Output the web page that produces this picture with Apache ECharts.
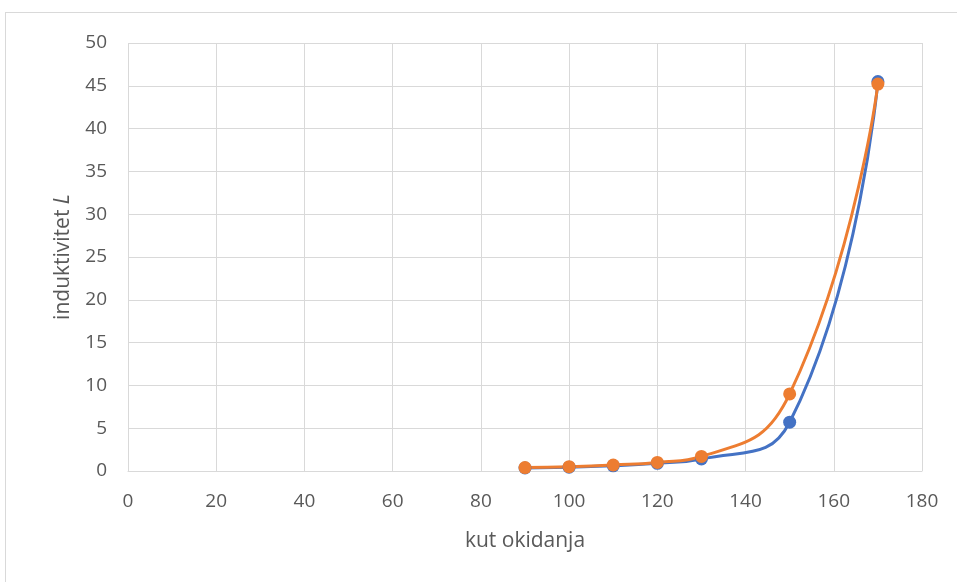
<!DOCTYPE html>
<html>
<head>
<meta charset="utf-8">
<script src="https://cdn.jsdelivr.net/npm/echarts@6/dist/echarts.min.js"></script>
<style>
  html, body { margin: 0; padding: 0; background: #fff; }
  #frame { position: absolute; left: 5px; top: 12px; width: 960px; height: 580px; border: 1px solid #d9d9d9; box-sizing: border-box; }
  #chart { position: absolute; left: 0; top: 0; width: 957px; height: 582px; }
</style>
</head>
<body>
<div id="frame"></div>
<div id="chart"></div>
<script>
// kut okidanja (trigger angle) values
const angles = [90, 100, 110, 120, 130, 150, 170];
// measured inductance, first series
const seriesA = [0.35, 0.45, 0.6, 0.9, 1.4, 5.7, 45.5];
// measured inductance, second series
const seriesB = [0.4, 0.5, 0.7, 1.0, 1.7, 9.0, 45.2];

const xTitle = 'kut okidanja';
const yTitle = 'induktivitet';

const font = "'Open Sans', 'Liberation Sans', sans-serif";
const chart = echarts.init(document.getElementById('chart'), null, { renderer: 'canvas' });

const pairs = arr => angles.map((a, i) => [a, arr[i]]);

chart.setOption({
  animation: false,
  grid: { left: 128, right: 35, top: 43, bottom: 111 },
  xAxis: {
    type: 'value', min: 0, max: 180, interval: 20,
    name: xTitle, nameLocation: 'middle', nameGap: 60,
    nameTextStyle: { fontFamily: font, fontSize: 21, color: '#595959' },
    axisLine: { show: true, lineStyle: { color: '#d9d9d9', width: 1 } },
    axisTick: { show: false },
    axisLabel: { fontFamily: font, fontSize: 19, color: '#595959', margin: 21 },
    splitLine: { show: true, lineStyle: { color: '#d9d9d9', width: 1 } }
  },
  yAxis: {
    type: 'value', min: 0, max: 50, interval: 5,
    name: '{n|' + yTitle + ' }{i|L}', nameLocation: 'middle', nameGap: 54,
    nameTextStyle: {
      rich: {
        n: { fontFamily: font, fontSize: 21, color: '#595959' },
        i: { fontFamily: font, fontSize: 21, color: '#595959', fontStyle: 'italic' }
      }
    },
    axisLine: { show: false },
    axisTick: { show: false },
    axisLabel: { fontFamily: font, fontSize: 19, color: '#595959', margin: 21 },
    splitLine: { show: true, lineStyle: { color: '#d9d9d9', width: 1 } }
  },
  series: [
    {
      type: 'line', data: pairs(seriesA), smooth: 0.5,
      symbol: 'circle', symbolSize: 13,
      lineStyle: { color: '#4472C4', width: 3 },
      itemStyle: { color: '#4472C4' }
    },
    {
      type: 'line', data: pairs(seriesB), smooth: 0.5,
      symbol: 'circle', symbolSize: 13,
      lineStyle: { color: '#ED7D31', width: 3 },
      itemStyle: { color: '#ED7D31' }
    }
  ]
});
</script>
</body>
</html>
